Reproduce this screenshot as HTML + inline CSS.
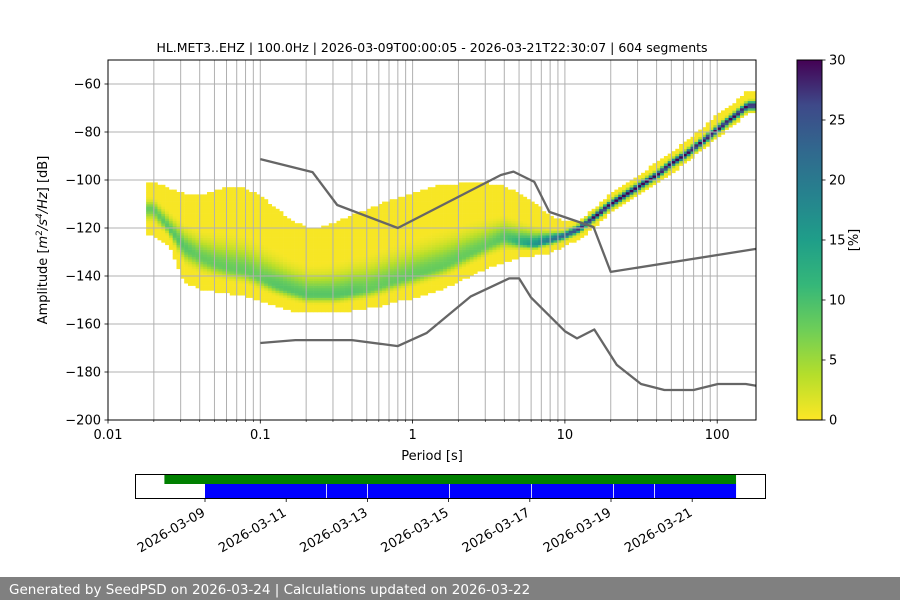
<!DOCTYPE html>
<html><head><meta charset="utf-8"><style>
body{margin:0;background:#fff}
svg{display:block;font-family:"DejaVu Sans","Liberation Sans",sans-serif}
</style></head><body>
<svg id="chart" width="900" height="600" viewBox="0 0 900 600" xmlns="http://www.w3.org/2000/svg">
<rect width="900" height="600" fill="#fff"/>
<text x="432" y="52" font-size="12.5" text-anchor="middle">HL.MET3..EHZ | 100.0Hz | 2026-03-09T00:00:05 - 2026-03-21T22:30:07 | 604 segments</text>
<g id="heat"></g>
<g id="grid"></g>
<g id="models"></g>
<rect x="108" y="60" width="648" height="360" fill="none" stroke="#000" stroke-width="1"/>
<g id="axes"></g>
<text x="432" y="460" font-size="13" text-anchor="middle">Period [s]</text>
<text transform="translate(47,240) rotate(-90)" font-size="13" text-anchor="middle">Amplitude [<tspan font-style="italic">m</tspan><tspan font-size="9" dy="-5">2</tspan><tspan dy="5" font-style="italic">/s</tspan><tspan font-size="9" dy="-5" font-style="italic">4</tspan><tspan dy="5" font-style="italic">/Hz</tspan>] [dB]</text>
<defs><linearGradient id="vir" x1="0" y1="1" x2="0" y2="0">
<stop offset="0" stop-color="#fde725"/><stop offset="0.125" stop-color="#b5de2b"/><stop offset="0.25" stop-color="#6ece58"/><stop offset="0.375" stop-color="#35b779"/><stop offset="0.5" stop-color="#1f9e89"/><stop offset="0.625" stop-color="#26828e"/><stop offset="0.75" stop-color="#31688e"/><stop offset="0.875" stop-color="#3e4989"/><stop offset="1" stop-color="#440154"/></linearGradient></defs>
<rect x="797" y="60" width="25" height="360" fill="url(#vir)" stroke="#000" stroke-width="1"/>
<g id="cbar"></g>
<text transform="translate(858,240) rotate(-90)" font-size="13" text-anchor="middle">[%]</text>
<g id="timeline"></g>
<rect x="0" y="577" width="900" height="23" fill="#808080"/>
<text x="9" y="594" font-size="13.5" fill="#fff">Generated by SeedPSD on 2026-03-24 | Calculations updated on 2026-03-22</text>
</svg>
<script>
const periodsLog=[-1.7,-1.6,-1.5,-1.4,-1.3,-1.2,-1.1,-1.0,-0.9,-0.8,-0.7,-0.6,-0.5,-0.4,-0.3,-0.2,-0.1,0.0,0.1,0.2,0.3,0.4,0.5,0.6,0.7,0.8,0.9,1.0,1.1,1.2,1.3,1.4,1.5,1.6,1.7,1.8,1.9,2.0,2.1,2.2];
const modeDb=[-112,-120,-128,-132,-135,-137,-138,-141,-144,-146,-148,-148,-148,-147,-146,-144,-142,-140,-138,-136,-133,-130,-127,-124,-126,-127,-125,-123,-120,-115,-110,-106,-102,-98,-93,-89,-84,-79,-74,-69];
const highDb=[-101,-104,-106,-107,-105,-103,-104,-107,-112,-117,-120,-120,-118,-115,-113,-110,-108,-106,-104,-102,-102,-101,-102,-103,-106,-110,-115,-118,-117,-112,-106,-102,-98,-93,-89,-84,-79,-73,-69,-63];
const lowDb=[-123,-127,-142,-145,-146,-147,-148,-150,-152,-154,-155,-155,-155,-154,-153,-152,-150,-149,-147,-145,-142,-139,-136,-134,-132,-131,-130,-127,-124,-119,-113,-109,-105,-101,-97,-92,-87,-82,-77,-72];
const peakPct=[8,9,9,8,8,8,8,8,9,9,9,9,9,9,8,8,8,8,8,8,8,8,8,9,12,16,20,24,28,30,30,30,30,30,30,30,30,30,30,30];
const nhnmP=[0.1,0.22,0.32,0.8,3.8,4.6,6.3,7.9,15.4,20,180];
const nhnmDb=[-91.3,-96.7,-110.4,-120,-97.9,-96.5,-100.8,-113.3,-119.6,-138.3,-128.7];
const nlnmP=[0.1,0.17,0.4,0.8,1.24,2.4,4.3,5.0,6.0,10,12,15.6,21.9,31.6,45,70,101,154,180];
const nlnmDb=[-167.9,-166.7,-166.7,-169.2,-163.7,-148.6,-141,-141,-149,-163,-166,-162.3,-177,-185,-187.5,-187.5,-185,-185,-185.7];
const yTicks=[-200,-180,-160,-140,-120,-100,-80,-60];
const xTickLabels=["0.01","0.1","1","10","100"];
const cbTicks=[0,5,10,15,20,25,30];
const dateLabels=["2026-03-09","2026-03-11","2026-03-13","2026-03-15","2026-03-17","2026-03-19","2026-03-21"];
const dateDays=[0,2,4,6,8,10,12];
const coverStart=[-1.0], coverEnd=[13.08];
const gapsStart=[0,3.0,4.01,6.03,8.05,10.07,11.08];
const gapsEnd=[2.98,3.99,6.01,8.03,10.05,11.06,13.08];

const NS="http://www.w3.org/2000/svg";
function mk(tag,attrs,parent){const e=document.createElementNS(NS,tag);for(const k in attrs)e.setAttribute(k,attrs[k]);parent.appendChild(e);return e;}
const X=lp=>108+152.3*(lp+2);
const Xp=p=>X(Math.log10(p));
const Y=db=>420-(db+200)*2.4;
const CY=v=>420-v*12;
const TX=d=>205+40.6*d;
const stops=[[253,231,37],[181,222,43],[110,206,88],[53,183,121],[31,158,137],[38,130,142],[49,104,142],[62,73,137],[68,1,84]];
function vir(v){let t=Math.max(0,Math.min(1,v/30))*8;let i=Math.min(7,Math.floor(t));let f=t-i;const a=stops[i],b=stops[i+1];return `rgb(${Math.round(a[0]+(b[0]-a[0])*f)},${Math.round(a[1]+(b[1]-a[1])*f)},${Math.round(a[2]+(b[2]-a[2])*f)})`;}

const heat=document.getElementById('heat');
const SUB=4;
const lerp=(arr,i,f)=>arr[i]+(i+1<arr.length?(arr[i+1]-arr[i])*f:0);
periodsLog.forEach((lp,i)=>{
  for(let s=0;s<SUB;s++){
    const f=(s+0.5)/SUB-0.5;
    let j=i,ff=f; if(f<0&&i>0){j=i-1;ff=1+f;} else if(f<0){ff=0;}
    const mode=lerp(modeDb,j,ff),hi=lerp(highDb,j,ff),lo=lerp(lowDb,j,ff),pk=lerp(peakPct,j,ff);
    const x0=X(lp-0.05+s*0.1/SUB),x1=X(lp-0.05+(s+1)*0.1/SUB);
    const sigUp=Math.max(1.0,(hi-mode)/5.5), sigDn=Math.max(1.0,(mode-lo)/4.5);
    for(let db=Math.floor(lo);db<Math.ceil(hi);db++){
      const d=db+0.5-mode;const sg=d>0?sigUp:sigDn;
      let v=pk*Math.exp(-(d*d)/(2*sg*sg));
      v=Math.max(v,0.3);
      const r=mk('rect',{x:x0.toFixed(1),y:Y(db+1).toFixed(1),width:(x1-x0+0.3).toFixed(1),height:2.7,fill:vir(v)},heat);
      
      
    }
  }
});

const grid=document.getElementById('grid'),axes=document.getElementById('axes');
for(let dec=-2;dec<=2;dec++){for(let k=1;k<=9;k++){const p=k*Math.pow(10,dec);if(p>180)break;const x=Xp(p);
  const g=mk('line',{x1:x,x2:x,y1:60,y2:420,stroke:'#b0b0b0','stroke-width':1},grid);
  
  mk('line',{x1:x,x2:x,y1:420,y2:k==1?423.5:422,stroke:'#000','stroke-width':k==1?0.8:0.6},axes);
}}
xTickLabels.forEach(l=>{const t=mk('text',{x:Xp(parseFloat(l)),y:439,'font-size':13,'text-anchor':'middle'},axes);t.textContent=l;
  });
yTicks.forEach(v=>{const y=Y(v);
  if(v>-200){const g=mk('line',{x1:108,x2:756,y1:y,y2:y,stroke:'#b0b0b0','stroke-width':1},grid);}
  mk('line',{x1:104.5,x2:108,y1:y,y2:y,stroke:'#000','stroke-width':0.8},axes);
  const t=mk('text',{x:101,y:y+4.5,'font-size':13,'text-anchor':'end'},axes);t.textContent='\u2212'+Math.abs(v);
  });

const models=document.getElementById('models');
[[nhnmP,nhnmDb,'nhnm-line'],[nlnmP,nlnmDb,'nlnm-line']].forEach(([ps,ds,n])=>{
  const pts=ps.map((p,i)=>Xp(p).toFixed(1)+','+Y(ds[i]).toFixed(1)).join(' ');
  const l=mk('polyline',{points:pts,fill:'none',stroke:'#666','stroke-width':2.3,'stroke-linejoin':'round'},models);
  });

const cbar=document.getElementById('cbar');
cbTicks.forEach(v=>{const y=CY(v);mk('line',{x1:822,x2:825.5,y1:y,y2:y,stroke:'#000','stroke-width':0.8},cbar);
  const t=mk('text',{x:829,y:y+4.5,'font-size':13},cbar);t.textContent=v;
  });

const tl=document.getElementById('timeline');
mk('rect',{x:135.5,y:474.5,width:630,height:24,fill:'#fff',stroke:'#000','stroke-width':1},tl);
coverStart.forEach((s,i)=>{const r=mk('rect',{x:TX(s),y:475,width:TX(coverEnd[i])-TX(s),height:9,fill:'#008000'},tl);
  });
gapsStart.forEach((s,i)=>{const r=mk('rect',{x:TX(s),y:484,width:TX(gapsEnd[i])-TX(s),height:14,fill:'#0000ff'},tl);
  });
dateDays.forEach((d,i)=>{const x=TX(d);mk('line',{x1:x,x2:x,y1:498.5,y2:502,stroke:'#000','stroke-width':0.8},tl);
  const t=mk('text',{x:0,y:0,'font-size':13,'text-anchor':'end',transform:`translate(${x+1},${515}) rotate(-30)`},tl);t.textContent=dateLabels[i];
  });
</script>
</body></html>
